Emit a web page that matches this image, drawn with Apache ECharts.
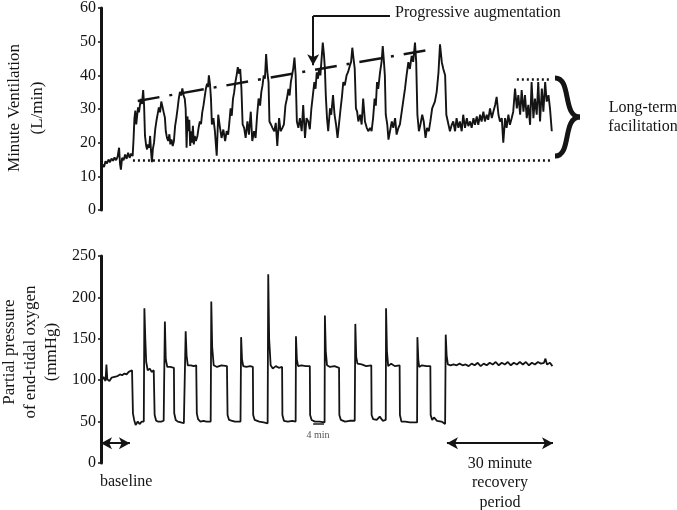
<!DOCTYPE html>
<html>
<head>
<meta charset="utf-8">
<script src="https://cdn.jsdelivr.net/npm/echarts@6/dist/echarts.min.js"></script>
<style>
html,body{margin:0;padding:0;background:#fff;}
#chart{width:677px;height:510px;}
</style>
</head>
<body>
<div id="chart"></div>
<script>
// Time in minutes
var ventTicks = [0, 10, 20, 30, 40, 50, 60];
var po2Ticks = [0, 50, 100, 150, 200, 250];

// Minute ventilation (L/min): [minute, value]
var ventilation = [
[0,11],[0.5,13.5],[1,12.8],[1.5,14.5],[2,13.8],[2.5,15],[3,14.2],[3.5,15.3],[4,14.6],[4.5,15.6],[5,14.8],[5.5,15.8],[6,18.5],[6.3,13.8],[6.6,12],[7,15.5],[7.5,14.8],[8,16.5],[8.5,15.2],[9,17],[9.5,15.5],[10,16.8],[10.5,16],
[10.8,21],[11.1,27.3],[11.4,29.5],[11.7,25.4],[12,28],[12.3,30.5],[12.6,29],[12.9,31],[13.2,33],[13.6,31.5],[14,35.6],[14.3,31],[14.6,22],
[15,19],[15.3,18],[15.6,19.5],[16,18.5],[16.3,22],[16.6,17.5],[16.9,14.2],[17.2,18],[17.6,20],
[18,24],[18.4,26.5],[18.8,28.5],[19.2,30.5],[19.6,29],[20,32.2],[20.4,30.7],[20.8,29],[21.2,27.5],
[21.5,23.4],[21.9,21.4],[22.3,20.5],[22.7,22.5],[23,19.5],[23.4,21],[23.8,19],[24.2,20.5],
[24.6,25],[25,27.3],[25.4,30],[25.8,33],[26.2,35.1],[26.6,34],[27,36.1],[27.4,34.1],[27.8,33],[28.1,30],
[28.4,18.5],[28.7,27.8],[29,23.4],[29.3,26.8],[29.6,19],[29.9,23.4],[30.2,20],[30.5,25],[30.8,19.5],[31.1,22],[31.5,20.5],
[32,22],[32.4,24.5],[32.8,26.3],[33.2,25.5],[33.6,29],[34,31],[34.4,33.5],[34.8,36],[35.2,37.5],[35.5,36.5],[35.8,40],[36.2,37],[36.5,33],
[36.8,25.4],[37.3,27.3],[37.8,23.4],[38.4,16.1],[38.9,28.3],[39.5,24.4],[40,21.4],[40.6,23.9],[41.2,20.5],[41.7,23.4],[42.2,22.4],
[42.6,26],[43,30.2],[43.4,28],[43.8,33],[44.2,35],[44.6,38],[45,40],[45.4,42.4],[45.8,40.5],[46.2,41.9],[46.6,36],
[47,25.4],[47.5,24.4],[48,21.4],[48.6,26.3],[49.1,22.4],[49.7,29.2],[50.2,20.5],[50.8,23.4],[51.3,21.4],
[51.8,28],[52.3,33.1],[52.8,31],[53.2,35],[53.6,37],[54,40],[54.4,39],[54.8,46.3],[55.2,41],[55.6,38],
[55.9,26.3],[56.4,25.4],[56.9,24.4],[57.5,23.4],[58,25.9],[58.5,19],[59.1,27.3],[59.6,23.4],[60.2,24.4],[60.7,25.4],
[61.2,31],[61.7,33.1],[62.2,36],[62.6,34],[63,38],[63.4,40],[63.8,42],[64.2,45.3],[64.6,40],
[65,26.3],[65.5,24.4],[66,27.3],[66.6,23.4],[67.1,31.2],[67.7,21.4],[68.2,27.3],[68.8,26.3],[69.3,24],
[69.8,30],[70.3,34],[70.8,38],[71.2,36],[71.6,40.9],[72,39],[72.4,42],[72.8,40],[73.2,44.8],[73.6,49.7],[74,46],[74.3,42],
[74.6,34.1],[75,27.3],[75.4,23.4],[76,30.2],[76.4,28.3],[77,34.1],[77.5,28.3],[78,25.4],[78.5,21.4],[79,20.9],
[79.5,30],[80,34],[80.4,38],[80.9,37],[81.5,40],[82,41],[82.6,42.9],[83,44],[83.4,48.2],[83.8,45],[84.2,42],
[84.6,30.2],[85,29.2],[85.4,26.3],[86,28.3],[86.5,25.4],[87,33.1],[87.6,26.3],[88.2,24.4],[88.7,23.4],[89.3,24.4],[89.8,23.4],[90.3,27.3],
[90.8,33.1],[91.2,31],[91.6,38],[92,36],[92.6,40.9],[93.1,43.9],[93.5,48.7],[93.9,44],[94.2,40],
[94.5,28.3],[95,25.4],[95.4,20.9],[95.9,23.4],[96.5,26.3],[97,24.4],[97.6,27.3],[98.1,22.4],[98.7,24.4],[99.2,25.4],[99.8,29.2],
[100.4,33],[100.9,36.1],[101.4,40],[102,43.9],[102.5,41.9],[103.1,45.8],[103.6,44],[104.2,49.7],[104.6,44],
[105,28.3],[105.5,23.4],[106,25.4],[106.6,28.3],[107.1,26.3],[107.7,21.4],[108.2,24.4],[108.8,23.4],[109.3,26.3],[109.9,30.2],
[110.8,32.2],[111.4,35.1],[112,40.9],[112.5,49.2],[113.1,43.9],[113.6,41.9],[114.2,40],[114.6,28.3],
[115.8,23.4],[116.4,25.3],[116.9,26.3],[117.5,23.4],[118,27.3],[118.6,24.4],[119.1,26.3],[119.7,23.4],[120.2,28.3],[120.8,24.4],[121.4,27.3],[121.9,24.9],[122.5,26.3],[123,24.4],[123.6,27.3],[124.1,25.3],[124.7,27.8],[125.2,25.3],[125.8,28.3],[126.3,26.3],[126.9,29.2],[127.4,26.3],[128,28.3],[128.5,26.8],[129.1,30.2],[129.7,27.3],[130.2,29.2],[130.8,31.2],[131.3,33.6],[131.9,28.3],[132.4,26.3],[133,27.3],[133.5,20],[134.1,27.3],[134.6,24.4],[135.2,28.3],[135.7,25.3],[136.3,27.3],[136.8,29.2],[137.4,36.1],[138,30.2],[138.5,34.1],[139.1,28.3],[139.6,35.6],[140.2,29.2],[140.7,34.1],[141.3,27.3],[141.8,31.2],[142.4,25.3],[142.9,38],[143.5,27.3],[144,33.1],[144.6,28.3],[145.1,38],[145.7,26.3],[146.3,36.1],[146.8,29.2],[147.4,38],[147.9,32.2],[148.5,34.1],[149,30.2],[149.6,23.4]
];

// Partial pressure of end-tidal O2 (mmHg): [minute, value]
var po2 = [
[0,97],[0.8,104],[1.5,99],[1.8,119],[2.1,101],[2.8,99],[3.5,103],[4.5,104],[5.5,105],[6.3,107],[7,106],[7.8,108],[8.5,107],[9.2,110],[9.8,108],[10.3,112],[10.5,113],
[10.6,60],[11,52],[11.5,46],[12.2,50],[12.8,47],[13.5,50],[14.2,50],
[14.4,187],[14.7,150],[15,122],[15.5,112],[16.2,114],[16.8,110],[17.5,112],
[17.7,110],[17.8,58],[18.3,51],[19,50],[20,50],[20.8,51],[21.1,50],
[21.2,171],[21.5,125],[22,116],[23,116],[24.2,115],
[24.3,60],[24.8,52],[25.5,50],[26.5,49],[27.5,48],[28,49],
[28.1,159],[28.4,130],[28.8,118],[29.8,118],[30.8,117],[31.6,118],
[31.8,60],[32.2,53],[33,50],[34,51],[35,50],[36.4,50],
[36.6,195],[36.9,140],[37.4,118],[38.5,116],[40,118],[41.8,117],
[42,58],[42.5,52],[43.5,51],[44.5,50],[46.3,50],
[46.5,152],[46.8,125],[47.2,117],[48.2,116],[49.5,117],[50.4,116],
[50.5,58],[51,52],[52.5,50],[54,49],[55.3,48],
[55.5,228],[55.8,150],[56.3,118],[57,114],[58,117],[59,115],[60.1,116],
[60.2,58],[60.7,51],[62,50],[63.5,51],[64.6,50],
[64.7,153],[65,125],[65.4,117],[66.5,118],[68,117],[69.3,117],
[69.4,58],[69.9,52],[71,50],[72.5,50],[74.2,49],
[74.3,178],[74.6,135],[75,118],[76,116],[77.5,117],[79,115],
[79.1,58],[79.6,52],[81,50],[82.5,51],[84.2,51],
[84.4,168],[84.7,128],[85.1,120],[86.5,119],[88,117],[89.7,118],
[89.8,58],[90.3,53],[91.5,52],[92.5,56],[93.5,51],[94.5,52],
[94.6,187],[94.9,135],[95.3,117],[96.3,120],[97.5,117],[99.1,118],
[99.2,58],[99.7,50],[101,50],[102.5,49],[104.9,49],
[105,152],[105.3,125],[105.6,116],[106.5,118],[108,117],[109.3,117],
[109.4,58],[109.9,52],[110.5,55],[111.5,51],[113,50],[114.2,47],
[114.4,155],[114.7,130],[115.1,119],
[116,118],[117,119],[118,118],[119,120],[120,118],[121,119],[122,117],[123,120],[124,118],[125,121],[126,117],[127,120],[128,118],[129,121],[130,119],[131,122],[132,118],[133,121],[134,119],[135,122],[136,118],[137,121],[138,119],[139,122],[140,119],[141,122],[142,118],[143,121],[144,119],[145,122],[146,120],[147,121],[147.5,126],[148,119],[149,121],[149.8,117]
];

// Annotation anchor values (minutes / units)
var baselineLevel = 14.7;
var baselineLineSpan = [10.6, 149];
var ltfLevel = 38.7;
var ltfSpan = [138, 149];
var trendStart = [12.2, 32.4];
var trendEnd = [110.9, 47.9];
var augArrow = { xLabel: 95.9, xArrow: 70.4, yTop: 57.6, yTip: 43 };
var baselineArrow = [0, 9.6, 24];
var recoveryArrow = [114.8, 150, 24];
var scaleBar = [70.4, 74.0, 47.5];

var SERIF = "'Liberation Serif','Times New Roman',serif";
var INK = '#141414';

function axisY(gridIndex, max, interval) {
  return {
    gridIndex: gridIndex, type: 'value', min: 0, max: max, interval: interval,
    axisLine: { show: true, lineStyle: { color: INK, width: 3 } },
    axisTick: { show: true, length: 3, lineStyle: { color: INK, width: 1.5 } },
    axisLabel: { color: INK, fontFamily: SERIF, fontSize: 16, margin: 5 },
    splitLine: { show: false }
  };
}
function axisX(gridIndex) {
  return { gridIndex: gridIndex, type: 'value', min: 0, max: 150, show: false, splitLine: { show: false } };
}
function seg(a, b, style, symA, symB) {
  return [
    { coord: a, symbol: symA || 'none', symbolSize: [9, 11], lineStyle: style },
    { coord: b, symbol: symB || 'none', symbolSize: [9, 11] }
  ];
}

var chart = echarts.init(document.getElementById('chart'), null, { renderer: 'canvas' });
var dotted = { type: [2, 3], width: 2.5, color: INK, cap: 'butt' };
var solid = { type: 'solid', width: 2, color: INK };

chart.setOption({
  animation: false,
  backgroundColor: '#fff',
  grid: [
    { left: 101, top: 5, width: 452, height: 205, containLabel: false },
    { left: 101, top: 256, width: 452, height: 207, containLabel: false }
  ],
  xAxis: [axisX(0), axisX(1)],
  yAxis: [axisY(0, ventTicks[ventTicks.length - 1], ventTicks[1] - ventTicks[0]),
          axisY(1, po2Ticks[po2Ticks.length - 1], po2Ticks[1] - po2Ticks[0])],
  series: [
    {
      type: 'line', xAxisIndex: 0, yAxisIndex: 0, data: ventilation,
      showSymbol: false, symbol: 'none', lineStyle: { color: INK, width: 1.9 }, silent: true,
      markLine: {
        silent: true, animation: false, label: { show: false },
        data: [
          seg([baselineLineSpan[0], baselineLevel], [baselineLineSpan[1], baselineLevel], dotted),
          seg([ltfSpan[0], ltfLevel], [ltfSpan[1], ltfLevel], dotted),
          seg(trendStart, trendEnd, { type: [22, 10, 3, 10], width: 2.5, color: INK, cap: 'butt' }),
          seg([augArrow.xLabel, augArrow.yTop], [augArrow.xArrow, augArrow.yTop], solid),
          seg([augArrow.xArrow, augArrow.yTop], [augArrow.xArrow, augArrow.yTip], solid, 'none', 'arrow')
        ]
      }
    },
    {
      type: 'line', xAxisIndex: 1, yAxisIndex: 1, data: po2,
      showSymbol: false, symbol: 'none', lineStyle: { color: INK, width: 1.8 }, silent: true,
      markLine: {
        silent: true, animation: false, label: { show: false },
        data: [
          seg([baselineArrow[0], baselineArrow[2]], [baselineArrow[1], baselineArrow[2]], solid, 'arrow', 'arrow'),
          seg([recoveryArrow[0], recoveryArrow[2]], [recoveryArrow[1], recoveryArrow[2]], solid, 'arrow', 'arrow'),
          seg([scaleBar[0], scaleBar[2]], [scaleBar[1], scaleBar[2]], { type: 'solid', width: 2, color: '#555' })
        ]
      }
    }
  ],
  graphic: [
    { type: 'text', x: 26, y: 108, rotation: Math.PI / 2,
      style: { text: 'Minute Ventilation\n(L/min)', fill: INK, fontFamily: SERIF, fontSize: 17, lineHeight: 23, align: 'center', verticalAlign: 'middle' } },
    { type: 'text', x: 31, y: 352, rotation: Math.PI / 2,
      style: { text: 'Partial pressure\nof end-tidal oxygen\n(mmHg)', fill: INK, fontFamily: SERIF, fontSize: 17, lineHeight: 21, align: 'center', verticalAlign: 'middle' } },
    { type: 'text', x: 395, y: 13,
      style: { text: 'Progressive augmentation', fill: INK, fontFamily: SERIF, fontSize: 16, align: 'left', verticalAlign: 'middle' } },
    { type: 'text', x: 643, y: 117,
      style: { text: 'Long-term\nfacilitation', fill: INK, fontFamily: SERIF, fontSize: 16, lineHeight: 19, align: 'center', verticalAlign: 'middle' } },
    { type: 'bezierCurve', shape: { x1: 555, y1: 78, cpx1: 572, cpy1: 78, cpx2: 562, cpy2: 117, x2: 580, y2: 117 },
      style: { fill: null, stroke: INK, lineWidth: 5 } },
    { type: 'bezierCurve', shape: { x1: 555, y1: 156, cpx1: 572, cpy1: 156, cpx2: 562, cpy2: 117, x2: 580, y2: 117 },
      style: { fill: null, stroke: INK, lineWidth: 5 } },
    { type: 'text', x: 100, y: 482,
      style: { text: 'baseline', fill: INK, fontFamily: SERIF, fontSize: 16, align: 'left', verticalAlign: 'middle' } },
    { type: 'text', x: 500, y: 483,
      style: { text: '30 minute\nrecovery\nperiod', fill: INK, fontFamily: SERIF, fontSize: 16, lineHeight: 19.5, align: 'center', verticalAlign: 'middle' } },
    { type: 'text', x: 318, y: 435,
      style: { text: '4 min', fill: '#555', fontFamily: SERIF, fontSize: 10, align: 'center', verticalAlign: 'middle' } }
  ]
});
</script>
</body>
</html>
